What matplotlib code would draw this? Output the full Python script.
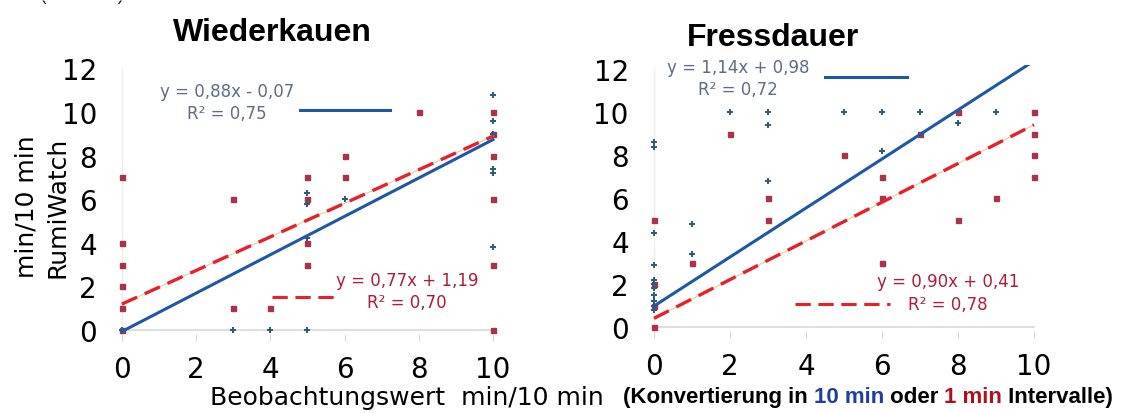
import matplotlib
matplotlib.use("Agg")
import matplotlib.pyplot as plt

# Wiederkauen (rumination)
rum_10_x = [0, 3, 4, 5, 5, 5, 5, 6, 10, 10, 10, 10, 10, 10]
rum_10_y = [0, 0, 0, 6.3, 5.8, 4.2, 0, 6, 10.8, 9.6, 7.4, 7.2, 3.8, 9]
rum_1_x = [0, 0, 0, 0, 0, 0, 3, 3, 4, 5, 5, 5, 5, 6, 6, 8, 10, 10, 10, 10, 10, 10]
rum_1_y = [7, 4, 3, 2, 1, 0, 6, 1, 1, 7, 6, 4, 3, 8, 7, 10, 10, 9, 8, 6, 3, 0]

# Fressdauer (feeding)
fress_10_x = [0, 0, 0, 0, 0, 0, 0, 0, 0, 0, 0, 1, 1, 2, 3, 3, 3, 5, 6, 6, 7, 8, 9]
fress_10_y = [8.6, 8.4, 4.4, 2.9, 2.2, 2.0, 1.8, 1.5, 1.2, 1.0, 0.8, 4.8, 3.4,
              10, 10, 9.4, 6.8, 10, 10, 8.2, 10, 9.5, 10]
fress_1_x = [0, 0, 0, 0, 1, 2, 3, 3, 5, 6, 6, 6, 7, 8, 8, 9, 10, 10, 10, 10]
fress_1_y = [5, 2, 1, 0, 3, 9, 6, 5, 8, 7, 6, 3, 9, 10, 5, 6, 10, 9, 8, 7]

# trend lines (slope, intercept) and labels
rum_fit_10 = (0.88, -0.07, "y = 0,88x - 0,07", "R² = 0,75")
rum_fit_1 = (0.77, 1.19, "y = 0,77x + 1,19", "R² = 0,70")
fress_fit_10 = (1.14, 0.98, "y = 1,14x + 0,98", "R² = 0,72")
fress_fit_1 = (0.90, 0.41, "y = 0,90x + 0,41", "R² = 0,78")

x_ticks = [0, 2, 4, 6, 8, 10]
y_ticks = [0, 2, 4, 6, 8, 10, 12]

BLUE_LINE = "#1f57a8"
RED_LINE = "#e8202a"
BLUE_PT = "#2f5d78"
RED_PT = "#a8344c"
BLUE_TXT = "#5d6d86"
RED_TXT = "#b01c38"
AX_GREY = "#d9d9d9"

fig = plt.figure(figsize=(11.22, 4.14), dpi=100)
ax1 = fig.add_axes([0.1037, 0.190, 0.3406, 0.653])
ax2 = fig.add_axes([0.5778, 0.197, 0.3488, 0.644])


def draw_panel(ax, x10, y10, x1, y1, fit10, fit1):
    ax.set_xlim(-0.15, 10.15)
    ax.set_ylim(-0.2, 12.2)
    for s in ax.spines.values():
        s.set_visible(False)
    ax.plot([0, 10], [0, 0], color=AX_GREY, lw=1.2, zorder=1)
    ax.plot([0, 0], [0, 12], color="#eeeeee", lw=1.0, zorder=1)
    ax.set_xticks(x_ticks)
    ax.set_yticks(y_ticks)
    ax.tick_params(axis="x", length=5, color=AX_GREY, labelsize=20, pad=10)
    ax.tick_params(axis="y", length=0, labelsize=20, pad=14)

    ax.plot(x1, y1, ls="none", marker="s", ms=3.6, color=RED_PT, zorder=3, clip_on=False)
    ax.plot(x10, y10, ls="none", marker="P", ms=4, color=BLUE_PT, mew=0, zorder=4, clip_on=False)

    m, b = fit10[0], fit10[1]
    ax.plot([0, 10], [b, m * 10 + b], color=BLUE_LINE, lw=2.2, zorder=5)
    m, b = fit1[0], fit1[1]
    ax.plot([0, 10], [b, m * 10 + b], color="#f2c89a", lw=0.8, zorder=5)
    ax.plot([0, 10], [b, m * 10 + b], color=RED_LINE, lw=2.4, dashes=(5, 2.5), zorder=6)


draw_panel(ax1, rum_10_x, rum_10_y, rum_1_x, rum_1_y, rum_fit_10, rum_fit_1)
draw_panel(ax2, fress_10_x, fress_10_y, fress_1_x, fress_1_y, fress_fit_10, fress_fit_1)

fig.text(0.243, 0.920, "Wiederkauen", ha="center", va="center", fontsize=23,
         fontweight="bold", family="Liberation Sans")
fig.text(0.689, 0.908, "Fressdauer", ha="center", va="center", fontsize=23,
         fontweight="bold", family="Liberation Sans")


# equation labels with key samples
def eq_label(ax, fit, tx, ty, sx, sy, color, line_color, dashed):
    ax.text(tx, ty, fit[2] + "\n" + fit[3], transform=ax.transAxes, ha="center", va="center",
            fontsize=12, color=color, linespacing=1.3)
    kw = dict(dashes=(5, 2.5)) if dashed else {}
    ax.plot(sx, [sy, sy], transform=ax.transAxes, color=line_color, lw=2.2, clip_on=False, **kw)


eq_label(ax1, rum_fit_10, 0.29, 0.859, [0.48, 0.717], 0.830, BLUE_TXT, BLUE_LINE, False)
eq_label(ax1, rum_fit_1, 0.76, 0.159, [0.407, 0.585], 0.138, RED_TXT, RED_LINE, True)
eq_label(ax2, fress_fit_10, 0.229, 0.952, [0.451, 0.661], 0.954, BLUE_TXT, BLUE_LINE, False)
eq_label(ax2, fress_fit_1, 0.766, 0.146, [0.374, 0.617], 0.102, RED_TXT, RED_LINE, True)

# axis labels
fig.text(0.024, 0.50, "min/10 min", rotation=90, ha="center", va="center", fontsize=18)
fig.text(0.051, 0.50, "RumiWatch", rotation=90, ha="center", va="center", fontsize=18)
fig.text(0.187, 0.039, "Beobachtungswert  min/10 min", ha="left", va="center", fontsize=18)

# mixed colour bold note
renderer = fig.canvas.get_renderer()
parts = [("(Konvertierung in ", "black"), ("10 min", "#1f3f9a"), (" oder ", "black"),
         ("1 min", "#b0101c"), (" Intervalle)", "black")]
x = 0.555
for s, c in parts:
    t = fig.text(x, 0.039, s, ha="left", va="center", fontsize=16, fontweight="bold",
                 family="Liberation Sans", color=c)
    bb = t.get_window_extent(renderer=renderer)
    x += bb.width / fig.bbox.width

# small marks top left
fig.text(0.040, 0.975, "`", fontsize=12, ha="center", va="center")
fig.text(0.106, 0.975, "´", fontsize=12, ha="center", va="center")

fig.savefig("out.png", dpi=100)
